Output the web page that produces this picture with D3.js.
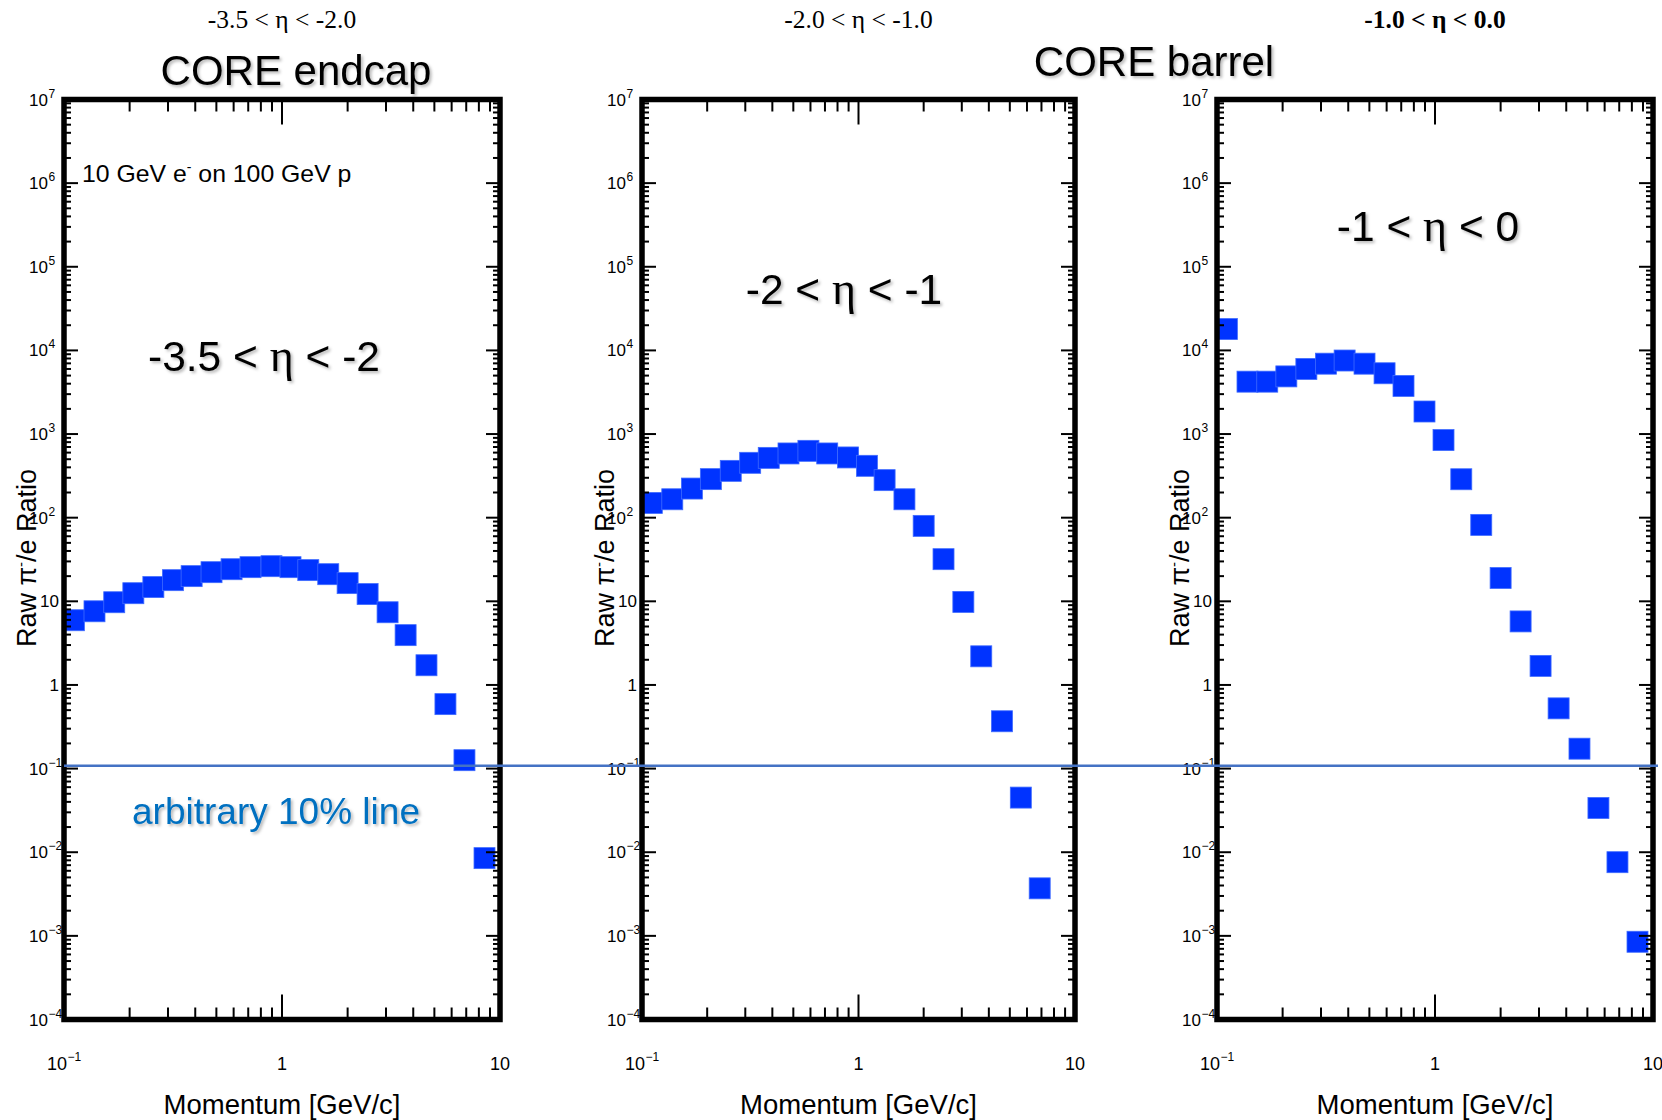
<!DOCTYPE html>
<html>
<head>
<meta charset="utf-8">
<script src="https://cdn.jsdelivr.net/npm/d3@7"></script>
<style>
  html, body { margin: 0; padding: 0; background: #fff; }
  svg { display: block; }
</style>
</head>
<body>
<svg id="chart" width="1662" height="1120"></svg>
<script>
// Momentum bin centres [GeV/c], shared by all three eta slices
const momentum = [0.111, 0.138, 0.170, 0.208, 0.257, 0.316, 0.385, 0.475, 0.587, 0.717, 0.895,
                  1.094, 1.32, 1.63, 2.00, 2.47, 3.05, 3.69, 4.60, 5.62, 6.87, 8.49];

// Raw pi-/e ratio per momentum bin
const ratioEndcap = [5.94, 7.6, 9.75, 12.5, 14.8, 17.9, 20.0, 22.3, 24.2, 25.6, 26.3,
                     25.6, 23.6, 21.1, 16.5, 12.2, 7.4, 3.94, 1.72, 0.59, 0.126, 0.0085];
const ratioBarrelFwd = [150, 166, 223, 289, 363, 453, 519, 586, 630, 586, 525,
                        417, 281, 166, 79.8, 31.9, 9.84, 2.20, 0.368, 0.045, 0.0037];
const ratioBarrelCentral = [18000, 4230, 4230, 4890, 6000, 6940, 7570, 6940, 5330, 3760, 1860,
                            847, 288, 82, 19, 5.75, 1.69, 0.525, 0.173, 0.0338, 0.0076, 0.00085];

// Text
const etaRanges = ["-3.5 < \u03b7 < -2.0", "-2.0 < \u03b7 < -1.0", "-1.0 < \u03b7 < 0.0"];
const etaLabels = [["-3.5 < ", "\u03b7", " < -2"], ["-2 < ", "\u03b7", " < -1"], ["-1 < ", "\u03b7", " < 0"]];
const xTickValues = [0.1, 1, 10];
const yPowers = [-4, -3, -2, -1, 0, 1, 2, 3, 4, 5, 6, 7];
const xTitle = "Momentum [GeV/c]";
const beamText = "10 GeV e";
const refLineValue = 0.108;

const svg = d3.select("#chart");
const defs = svg.append("defs");
const f = defs.append("filter").attr("id", "shadow").attr("x", "-10%").attr("y", "-30%")
  .attr("width", "130%").attr("height", "170%");
f.append("feDropShadow").attr("dx", 2).attr("dy", 2).attr("stdDeviation", 1.6)
  .attr("flood-color", "#000").attr("flood-opacity", 0.28);

const sans = "'Liberation Sans', Arial, Helvetica, sans-serif";
const serif = "'Liberation Serif', 'Times New Roman', serif";

const yTop = 99.5, yBottom = 1019.5;
const panels = [
  { left: 64,   right: 500,  data: ratioEndcap },
  { left: 642,  right: 1075, data: ratioBarrelFwd },
  { left: 1217, right: 1653, data: ratioBarrelCentral }
];

const y = d3.scaleLog().domain([1e-4, 1e7]).range([yBottom, yTop]);
const sup = p => (p < 0 ? "\u2212" + Math.abs(p) : String(p));

panels.forEach((p, i) => {
  const x = d3.scaleLog().domain([0.1, 10]).range([p.left, p.right]);
  const g = svg.append("g");

  // markers
  g.append("g").selectAll("rect")
    .data(p.data.map((v, k) => [momentum[k], v]))
    .join("rect")
    .attr("x", d => x(d[0]) - 10.5)
    .attr("y", d => y(d[1]) - 10.5)
    .attr("width", 21).attr("height", 21)
    .attr("fill", "#0033ff")
    .attr("stroke", "#3f6bff").attr("stroke-width", 0.8);

  // ticks
  const tk = g.append("g").attr("stroke", "#000").attr("stroke-width", 2);
  const xt = x.ticks(20).filter(v => v > 0.1 && v < 10);
  xt.forEach(v => {
    const len = Math.abs(Math.log10(v) - Math.round(Math.log10(v))) < 1e-9 ? 25 : 12;
    tk.append("line").attr("x1", x(v)).attr("x2", x(v)).attr("y1", yBottom).attr("y2", yBottom - len);
    tk.append("line").attr("x1", x(v)).attr("x2", x(v)).attr("y1", yTop).attr("y2", yTop + len);
  });
  const yt = y.ticks(200).filter(v => v > 1e-4 && v < 1e7);
  yt.forEach(v => {
    const major = Math.abs(Math.log10(v) - Math.round(Math.log10(v))) < 1e-9;
    const len = major ? 14 : 7;
    tk.append("line").attr("x1", p.left).attr("x2", p.left + len).attr("y1", y(v)).attr("y2", y(v));
    tk.append("line").attr("x1", p.right).attr("x2", p.right - len).attr("y1", y(v)).attr("y2", y(v));
  });

  // frame
  g.append("rect")
    .attr("x", p.left).attr("y", yTop)
    .attr("width", p.right - p.left).attr("height", yBottom - yTop)
    .attr("fill", "none").attr("stroke", "#000").attr("stroke-width", 5.5);

  // y tick labels
  const yl = g.append("g").attr("font-family", sans).attr("fill", "#000");
  yPowers.forEach(pw => {
    const yy = y(Math.pow(10, pw));
    if (pw === 0 || pw === 1) {
      yl.append("text").attr("x", p.left - 5).attr("y", yy + 6)
        .attr("text-anchor", "end").attr("font-size", 17).text(pw === 0 ? "1" : "10");
    } else {
      yl.append("text").attr("x", p.left - 16).attr("y", yy + 6)
        .attr("text-anchor", "end").attr("font-size", 17).text("10");
      yl.append("text").attr("x", p.left - 15.5).attr("y", yy - 2)
        .attr("font-size", 12).text(sup(pw));
    }
  });

  // x tick labels
  const xl = g.append("g").attr("font-family", sans).attr("fill", "#000");
  xTickValues.forEach(v => {
    const xx = x(v);
    if (v === 0.1) {
      xl.append("text").attr("x", xx + 3).attr("y", 1070).attr("text-anchor", "end")
        .attr("font-size", 18).text("10");
      xl.append("text").attr("x", xx + 3.5).attr("y", 1061).attr("font-size", 12).text(sup(-1));
    } else {
      xl.append("text").attr("x", xx).attr("y", 1070).attr("text-anchor", "middle")
        .attr("font-size", 18).text(v === 1 ? "1" : "10");
    }
  });

  // axis titles
  g.append("text").attr("x", x(1)).attr("y", 1114).attr("text-anchor", "middle")
    .attr("font-family", sans).attr("font-size", 27.5).attr("fill", "#000").text(xTitle);

  const yTitle = g.append("text")
    .attr("transform", `translate(${p.left - 28},558) rotate(-90)`)
    .attr("text-anchor", "middle").attr("font-family", sans).attr("font-size", 27).attr("fill", "#000");
  yTitle.append("tspan").text("Raw \u03c0");
  yTitle.append("tspan").attr("dy", -10).attr("font-size", 15).text("-");
  yTitle.append("tspan").attr("dy", 10).text("/e Ratio");

  // eta range above each panel
  g.append("text").attr("x", x(1)).attr("y", 28).attr("text-anchor", "middle")
    .attr("font-family", serif).attr("font-size", 25.5)
    .attr("font-weight", i === 2 ? "bold" : "normal")
    .attr("fill", "#000").text(etaRanges[i]);
});

// in-plot eta labels
const etaPos = [[264, 371], [844, 304], [1428, 241]];
etaLabels.forEach((parts, i) => {
  const t = svg.append("text").attr("x", etaPos[i][0]).attr("y", etaPos[i][1])
    .attr("text-anchor", "middle").attr("font-family", sans).attr("font-size", 42.5)
    .attr("fill", "#000").attr("filter", "url(#shadow)");
  t.append("tspan").text(parts[0]);
  t.append("tspan").attr("font-family", serif).attr("font-size", 46).text(parts[1]);
  t.append("tspan").text(parts[2]);
});

// beam configuration
const bt = svg.append("text").attr("x", 82).attr("y", 182)
  .attr("font-family", sans).attr("font-size", 24.8).attr("fill", "#000");
bt.append("tspan").text(beamText);
bt.append("tspan").attr("dy", -10).attr("font-size", 14).text("-");
bt.append("tspan").attr("dy", 10).text(" on 100 GeV p");

// detector region titles
svg.append("text").attr("x", 296).attr("y", 85).attr("text-anchor", "middle")
  .attr("font-family", sans).attr("font-size", 42).attr("fill", "#000")
  .attr("filter", "url(#shadow)").text("CORE endcap");
svg.append("text").attr("x", 1154).attr("y", 76).attr("text-anchor", "middle")
  .attr("font-family", sans).attr("font-size", 42).attr("fill", "#000")
  .attr("filter", "url(#shadow)").text("CORE barrel");

// 10% reference line across all slices
svg.append("line")
  .attr("x1", panels[0].left).attr("x2", 1658)
  .attr("y1", y(refLineValue)).attr("y2", y(refLineValue))
  .attr("stroke", "#4472c4").attr("stroke-width", 2.5);
svg.append("text").attr("x", 276).attr("y", 824).attr("text-anchor", "middle")
  .attr("font-family", sans).attr("font-size", 37).attr("fill", "#0070c0")
  .attr("filter", "url(#shadow)").text("arbitrary 10% line");
</script>
</body>
</html>
